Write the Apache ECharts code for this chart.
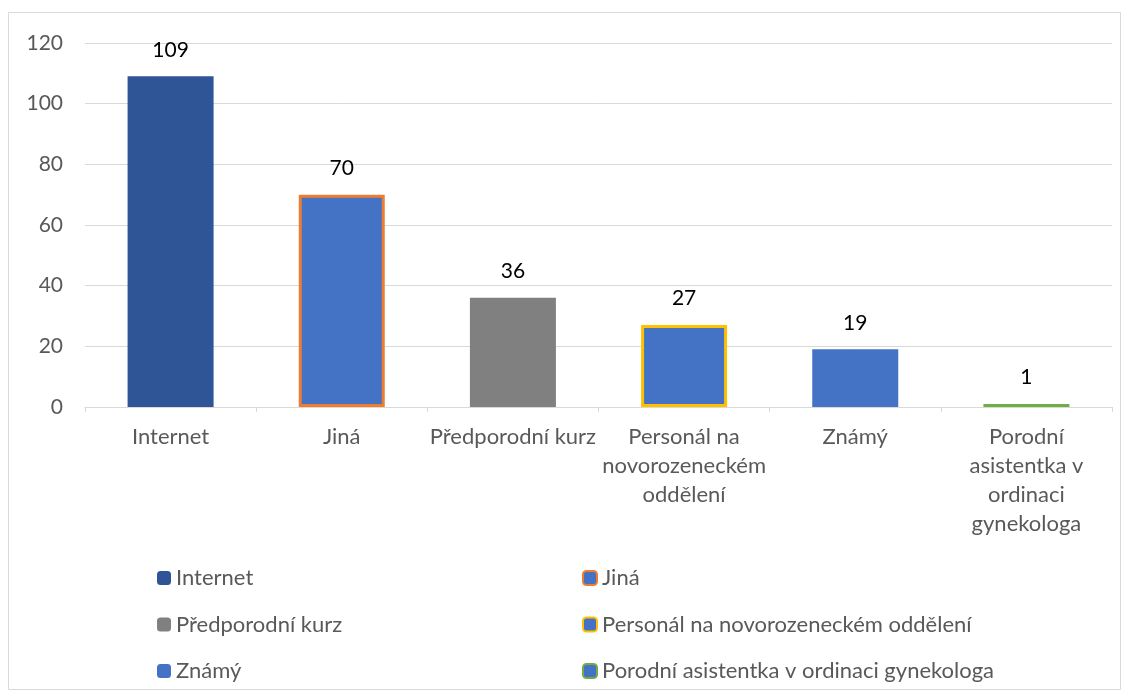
<!DOCTYPE html>
<html><head><meta charset="utf-8">
<script src="https://cdn.jsdelivr.net/npm/echarts@6/dist/echarts.min.js"></script>
<style>html,body{margin:0;padding:0;background:#fff}#c{width:1130px;height:696px}</style>
</head><body><div id="c"></div>
<script>
var categories = ['Internet', 'Jiná', 'Předporodní kurz', 'Personál na novorozeneckém oddělení', 'Známý', 'Porodní asistentka v ordinaci gynekologa'];
var axisLabels = ['Internet', 'Jiná', 'Předporodní kurz', 'Personál na\nnovorozeneckém\noddělení', 'Známý', 'Porodní\nasistentka v\nordinaci\ngynekologa'];
var values = [109, 70, 36, 27, 19, 1];
var fills = ['#2F5597', '#4472C4', '#808080', '#4472C4', '#4472C4', '#4472C4'];
var borders = ['#2F5597', '#ED7D31', '#808080', '#FFC000', '#4472C4', '#70AD47'];
var borderWidths = [0, 3, 0, 3, 0, 3];

var FONT = 'Lato, "Open Sans", sans-serif';
var series = categories.map(function (name, i) {
  var d = categories.map(function (_, j) { return j === i ? values[i] : '-'; });
  return {
    name: name, type: 'bar', stack: 'all', data: d, barWidth: 86,
    itemStyle: { color: fills[i], borderColor: borders[i], borderWidth: borderWidths[i] },
    label: { show: true, position: 'top', color: '#000', fontSize: 21, fontFamily: FONT, distance: 16 }
  };
});

var chart = echarts.init(document.getElementById('c'));
chart.setOption({
  animation: false,
  graphic: [{ type: 'rect', shape: { x: 8.5, y: 12.5, width: 1112, height: 677 }, style: { fill: 'none', stroke: '#D9D9D9', lineWidth: 1 }, silent: true }],
  grid: { left: 85, right: 18, top: 43, bottom: 289 },
  legend: [
    { orient: 'vertical', left: 157, top: 567, padding: 0, itemWidth: 14, itemHeight: 14, itemGap: 24.5, data: [categories[0], categories[2], categories[4]],
      textStyle: { color: '#595959', fontSize: 22, fontFamily: FONT } },
    { orient: 'vertical', left: 582, top: 567, padding: 0, itemWidth: 14, itemHeight: 14, itemGap: 24.5, data: [categories[1], categories[3], categories[5]],
      textStyle: { color: '#595959', fontSize: 22, fontFamily: FONT } }
  ],
  xAxis: {
    type: 'category', data: axisLabels,
    axisLine: { lineStyle: { color: '#D9D9D9' } },
    axisTick: { show: true, length: 5, lineStyle: { color: '#D9D9D9' } },
    axisLabel: { color: '#595959', fontSize: 22, fontFamily: FONT, lineHeight: 29, margin: 15, interval: 0 }
  },
  yAxis: {
    type: 'value', min: 0, max: 120, interval: 20,
    axisLine: { show: false }, axisTick: { show: false },
    splitLine: { lineStyle: { color: '#D9D9D9' } },
    axisLabel: { color: '#595959', fontSize: 21, fontFamily: FONT, margin: 22 }
  },
  series: series
});
</script></body></html>
